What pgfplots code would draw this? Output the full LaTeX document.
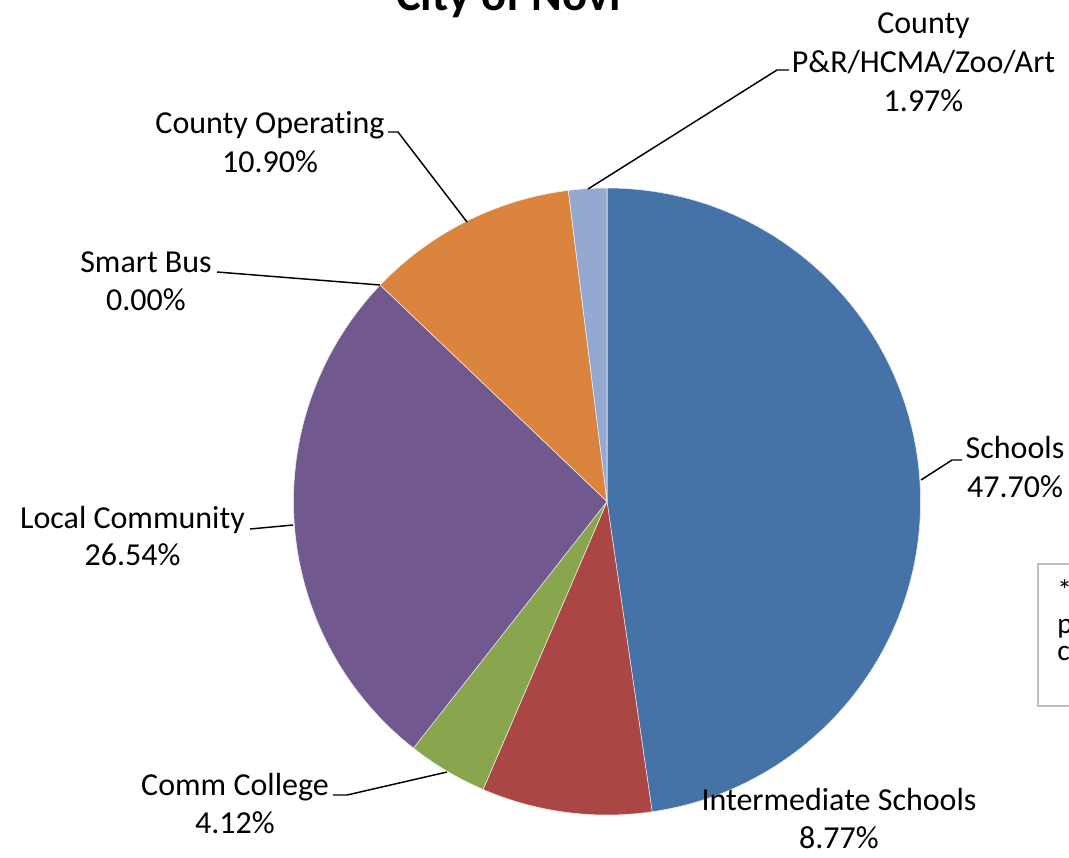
\documentclass[border=0pt]{standalone}
\usepackage{pgfplots}
\pgfplotsset{compat=1.18}
\usepackage{pgfplotstable}
\usepackage{fontspec}
\setmainfont{Carlito}[Ligatures=NoCommon]
\definecolor{cBlue}{HTML}{4572A7}
\definecolor{cRed}{HTML}{AA4643}
\definecolor{cGreen}{HTML}{89A54E}
\definecolor{cPurple}{HTML}{71588F}
\definecolor{cOrange}{HTML}{DB843D}
\definecolor{cLightBlue}{HTML}{93A9CF}
\pgfplotstableread{
name value color
Schools 47.70 cBlue
IntermediateSchools 8.77 cRed
CommCollege 4.12 cGreen
LocalCommunity 26.54 cPurple
SmartBus 0.00 cOrange
CountyOperating 10.90 cOrange
CountyPR 1.97 cLightBlue
}\piedata
\begin{document}
\begin{tikzpicture}[
  lbl/.style={anchor=base, inner sep=0pt, font=\fontsize{24}{29}\selectfont},
  ldr/.style={black, line width=1.1pt}]
\useasboundingbox (0,0) rectangle (801.75pt,642.75pt);
\clip (0,0) rectangle (801.75pt,642.75pt);
\begin{axis}[at={(0,0)}, anchor=south west, x=0.75pt, y=0.75pt,
  xmin=0, xmax=1069, ymin=0, ymax=857, y dir=reverse,
  hide axis, clip=false]
\pgfplotsextra{%
  \pgfplotstablegetrowsof{\piedata}%
  \pgfmathtruncatemacro\lastrow{\pgfplotsretval-1}%
  \gdef\cum{0}%
  \foreach \i in {0,...,\lastrow}{%
    \pgfplotstablegetelem{\i}{value}\of\piedata
    \edef\val{\pgfplotsretval}%
    \pgfplotstablegetelem{\i}{color}\of\piedata
    \edef\col{\pgfplotsretval}%
    \pgfmathsetmacro\aS{90-3.6*\cum}%
    \pgfmathsetmacro\aE{90-3.6*(\cum+\val)}%
    \ifdim\val pt>0pt
      \fill[fill=\col, draw=white!85!\col, line width=0.4pt] (axis cs:607,501.5) -- ++(\aS:235.125pt)
        arc[start angle=\aS, end angle=\aE, radius=235.125pt] -- cycle;
    \fi
    \pgfmathsetmacro\newcum{\cum+\val}%
    \global\let\cum\newcum
  }%
  % title
  \node[anchor=base, inner sep=0pt, font=\fontsize{35}{42}\selectfont\bfseries] at (axis cs:508.5,10) {City of Novi};
  % leader lines
  \draw[ldr] (axis cs:588,189) -- (axis cs:777,70) -- (axis cs:789,70);
  \draw[ldr] (axis cs:388,132) -- (axis cs:398,132) -- (axis cs:467,222);
  \draw[ldr] (axis cs:217,272) -- (axis cs:380,285);
  \draw[ldr] (axis cs:250,529) -- (axis cs:293,525);
  \draw[ldr] (axis cs:333,795) -- (axis cs:347,795) -- (axis cs:447,772);
  \draw[ldr] (axis cs:921,480) -- (axis cs:952,460) -- (axis cs:962,460);
  % labels
  \node[lbl] at (axis cs:923.5,33.5) {County};
  \node[lbl] at (axis cs:923.5,72.5) {P\&R/HCMA/Zoo/Art};
  \node[lbl] at (axis cs:923.5,111) {1.97\%};
  \node[lbl] at (axis cs:270,133) {County Operating};
  \node[lbl] at (axis cs:270,172) {10.90\%};
  \node[lbl] at (axis cs:146,272) {Smart Bus};
  \node[lbl] at (axis cs:146,310) {0.00\%};
  \node[lbl] at (axis cs:132.5,528) {Local Community};
  \node[lbl] at (axis cs:132.5,565) {26.54\%};
  \node[lbl] at (axis cs:235,795) {Comm College};
  \node[lbl] at (axis cs:235,833) {4.12\%};
  \node[lbl] at (axis cs:839,810) {Intermediate Schools};
  \node[lbl] at (axis cs:839,848) {8.77\%};
  \node[lbl] at (axis cs:1015,458) {Schools};
  \node[lbl] at (axis cs:1015,497) {47.70\%};
  % note box (cut off at right)
  \draw[color=black!25, line width=1pt] (axis cs:1038,564) rectangle (axis cs:1120,706);
  \node[anchor=base west, inner sep=0pt, font=\fontsize{22}{24}\selectfont] at (axis cs:1057,600) {*};
  \node[anchor=base west, inner sep=0pt, font=\fontsize{22}{24}\selectfont] at (axis cs:1057,633) {p};
  \node[anchor=base west, inner sep=0pt, font=\fontsize{22}{24}\selectfont] at (axis cs:1057,660) {c};
}
\end{axis}
\end{tikzpicture}
\end{document}
